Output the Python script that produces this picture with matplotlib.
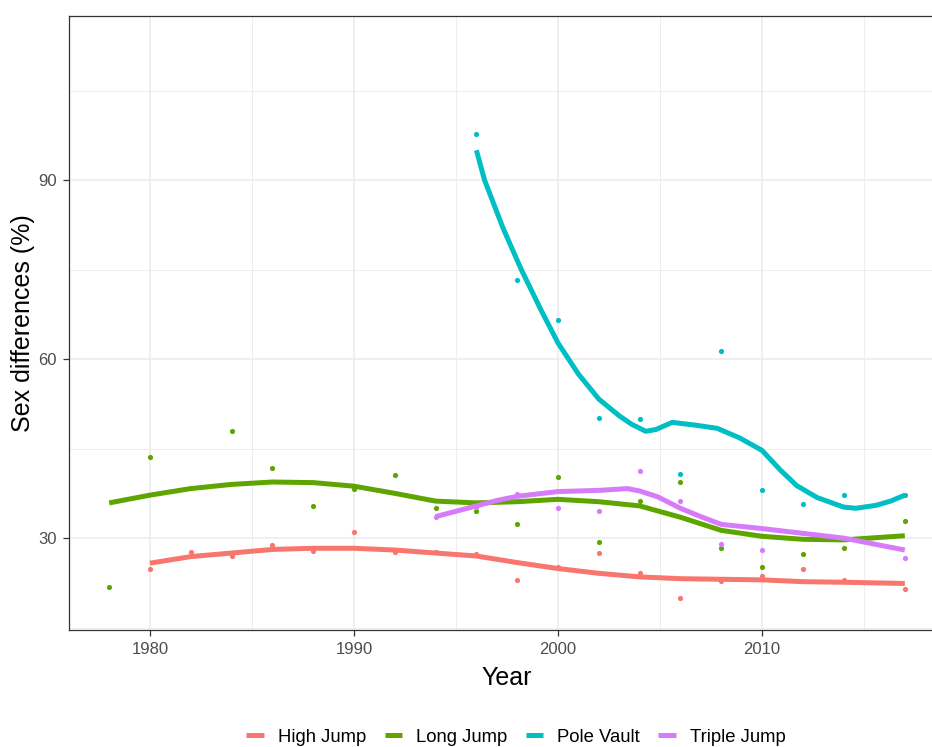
import matplotlib
matplotlib.use("Agg")
import matplotlib.pyplot as plt
from matplotlib.lines import Line2D
import numpy as np

plt.rcParams['font.family'] = ['Liberation Sans', 'DejaVu Sans']

events = ["High Jump", "Long Jump", "Pole Vault", "Triple Jump"]
colors = ["#F8766D", "#5EA500", "#00BFC4", "#D67CFA"]

# sex differences (%) per event and year
hj_years = [1980, 1982, 1984, 1986, 1988, 1990, 1992, 1994, 1996, 1998,
            2000, 2002, 2004, 2006, 2008, 2010, 2012, 2014, 2017]
hj_vals = [24.9, 27.6, 27.0, 28.8, 27.9, 31.1, 27.7, 27.6, 27.4, 23.0,
           25.2, 27.5, 24.1, 19.9, 22.8, 23.6, 24.8, 23.0, 21.4]

lj_years = [1978, 1980, 1984, 1986, 1988, 1990, 1992, 1994, 1996, 1998,
            2000, 2002, 2004, 2006, 2008, 2010, 2012, 2014, 2017]
lj_vals = [21.8, 43.6, 48.0, 41.8, 35.4, 38.2, 40.6, 35.0, 34.6, 32.3,
           40.3, 29.4, 36.2, 39.4, 28.4, 25.2, 27.3, 28.4, 32.8]

pv_years = [1996, 1998, 2000, 2002, 2004, 2006, 2008, 2010, 2012, 2014, 2017]
pv_vals = [97.8, 73.2, 66.6, 50.2, 49.9, 40.8, 61.4, 38.0, 35.8, 37.3, 37.2]

tj_years = [1994, 1996, 1998, 2000, 2002, 2004, 2006, 2008, 2010, 2012, 2014, 2017]
tj_vals = [33.6, 35.2, 37.4, 35.0, 34.6, 41.3, 36.2, 29.0, 28.0, 30.8, 30.0, 26.6]

# smoothed trend per event
hj_trend_x = [1980, 1982, 1984, 1986, 1988, 1990, 1992, 1994, 1996, 1998,
              2000, 2002, 2004, 2006, 2008, 2010, 2012, 2014, 2017]
hj_trend_y = [25.8, 26.9, 27.5, 28.1, 28.3, 28.3, 28.0, 27.5, 27.0, 25.9,
              24.9, 24.1, 23.5, 23.2, 23.1, 23.0, 22.7, 22.6, 22.4]

lj_trend_x = [1978, 1980, 1982, 1984, 1986, 1988, 1990, 1992, 1994, 1996,
              1998, 2000, 2002, 2004, 2006, 2008, 2010, 2012, 2014, 2017]
lj_trend_y = [35.9, 37.2, 38.3, 39.0, 39.4, 39.3, 38.7, 37.5, 36.2, 35.9,
              36.1, 36.5, 36.1, 35.4, 33.5, 31.3, 30.3, 29.8, 29.7, 30.4]

pv_trend_x = [1996.0, 1996.4, 1997.3, 1998.2, 1999.2, 2000.0, 2001.0, 2002.0,
              2003.0, 2003.6, 2004.3, 2004.8, 2005.6, 2006.8, 2007.8, 2008.9,
              2010.0, 2010.9, 2011.7, 2012.7, 2014.0, 2014.6, 2015.6, 2016.3, 2017.0]
pv_trend_y = [95.0, 90.0, 82.0, 75.0, 68.0, 62.7, 57.5, 53.3,
              50.5, 49.1, 47.9, 48.2, 49.4, 48.9, 48.4, 46.8,
              44.7, 41.4, 38.8, 36.8, 35.2, 35.0, 35.5, 36.2, 37.2]

tj_trend_x = [1994, 1995, 1996, 1997, 1998, 2000, 2002, 2003.4, 2004, 2004.9,
              2006, 2007, 2008, 2010, 2012, 2014, 2017]
tj_trend_y = [33.6, 34.5, 35.4, 36.3, 37.0, 37.8, 38.0, 38.3, 37.9, 36.9,
              35.0, 33.6, 32.3, 31.6, 30.8, 30.0, 28.0]

points = [(hj_years, hj_vals), (lj_years, lj_vals),
          (pv_years, pv_vals), (tj_years, tj_vals)]
trends = [(hj_trend_x, hj_trend_y), (lj_trend_x, lj_trend_y),
          (pv_trend_x, pv_trend_y), (tj_trend_x, tj_trend_y)]

fig = plt.figure(figsize=(9.32, 7.47), dpi=100)
# the panel runs a little past the right edge of the figure
ax = fig.add_axes([69.4 / 932, 1 - 630 / 747, 875.2 / 932, 614 / 747])

for (px, py), (tx, ty), col in zip(points, trends, colors):
    ax.plot(tx, ty, color=col, lw=3.6, solid_capstyle='butt',
            solid_joinstyle='round', zorder=3)
    ax.scatter(px, py, s=14, color=col, linewidths=0, zorder=4)

ax.set_xlim(1976.05, 2018.95)
ax.set_ylim(14.6, 117.5)
ax.set_xticks([1980, 1990, 2000, 2010])
ax.set_xticks([1985, 1995, 2005, 2015], minor=True)
ax.set_yticks([30, 60, 90])
ax.set_yticks([15, 45, 75, 105], minor=True)
ax.grid(which='major', color='#EBEBEB', lw=1.1)
ax.grid(which='minor', color='#EBEBEB', lw=0.6)
ax.set_axisbelow(True)

for side in ['left', 'top', 'bottom']:
    ax.spines[side].set_color('#333333')
    ax.spines[side].set_linewidth(0.9)
ax.spines['right'].set_visible(False)

ax.tick_params(which='major', length=4, width=0.9, color='#333333',
               labelcolor='#4D4D4D', labelsize=12)
ax.tick_params(axis='x', which='major', pad=5)
ax.tick_params(axis='y', which='major', pad=5)
ax.tick_params(which='minor', length=0)

ax.set_xlabel("Year", fontsize=18, labelpad=6)
ax.set_ylabel("Sex differences (%)", fontsize=18, labelpad=2)

handles = [Line2D([], [], color=c, lw=3.6, solid_capstyle='butt') for c in colors]
fig.legend(handles, events, loc='center', bbox_to_anchor=(516 / 932, 1 - 737 / 747),
           ncol=4, frameon=False, fontsize=13.3, handlelength=0.95,
           handletextpad=0.75, columnspacing=1.0)

fig.savefig("out.png", dpi=100)
